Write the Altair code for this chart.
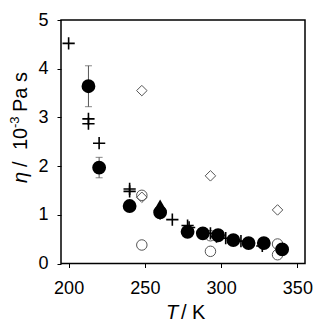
import altair as alt
import pandas as pd

# ---- data ----
cross_T   = [200, 213, 213, 220, 240, 240, 260, 268, 278, 279, 293, 297, 303, 313, 327]
cross_eta = [4.52, 2.97, 2.87, 2.47, 1.53, 1.48, 1.03, 0.90, 0.78, 0.74, 0.62, 0.55, 0.52, 0.46, 0.36]

fc_T   = [213, 220, 240, 260, 278, 288, 298, 308, 318, 328, 340]
fc_eta = [3.64, 1.97, 1.18, 1.05, 0.65, 0.62, 0.58, 0.48, 0.42, 0.42, 0.29]

err_T  = [213, 220]
err_lo = [3.22, 1.76]
err_hi = [4.06, 2.18]

tri_T   = [260]
tri_eta = [1.20]

oc_T   = [248, 248, 293, 293, 337, 337]
oc_eta = [1.40, 0.38, 0.57, 0.25, 0.40, 0.18]

dm_T   = [248, 293, 337, 248]
dm_eta = [3.55, 1.80, 1.10, 1.36]

x_ticks = [200, 250, 300, 350]
y_ticks = [0, 1, 2, 3, 4, 5]

W, H = 244, 243.5
FONT = "Liberation Sans"

xs = alt.Scale(domain=[195, 355], nice=False)
ys = alt.Scale(domain=[0, 5], nice=False)

X = alt.X("T:Q", scale=xs,
          axis=alt.Axis(values=x_ticks, title=None, grid=False, domain=False,
                        tickSize=4, labelPadding=12, format="d"))
Y = alt.Y("eta:Q", scale=ys,
          axis=alt.Axis(values=y_ticks, title=None, grid=False, domain=False,
                        tickSize=4, labelPadding=9, format="d"))

cross_df = pd.DataFrame({"T": cross_T, "eta": cross_eta})
fc_df = pd.DataFrame({"T": fc_T, "eta": fc_eta})
err_df = pd.DataFrame({"T": err_T, "lo": err_lo, "hi": err_hi})
tri_df = pd.DataFrame({"T": tri_T, "eta": tri_eta})
oc_df = pd.DataFrame({"T": oc_T, "eta": oc_eta})
dm_df = pd.DataFrame({"T": dm_T, "eta": dm_eta})

open_circles = alt.Chart(oc_df).mark_point(
    shape="circle", size=110, filled=False, stroke="#555555", strokeWidth=1, opacity=1
).encode(x=X, y=Y)

diamonds = alt.Chart(dm_df).mark_point(
    shape="diamond", size=110, filled=False, stroke="#555555", strokeWidth=1, opacity=1
).encode(x=X, y=Y)

crosses = alt.Chart(cross_df).mark_point(
    shape="M-1,0H1M0,-1V1", size=150, filled=False, stroke="black", strokeWidth=1.6, opacity=1
).encode(x=X, y=Y)

err_rule = alt.Chart(err_df).mark_rule(color="#555555", strokeWidth=1).encode(
    x=alt.X("T:Q", scale=xs), y=alt.Y("lo:Q", scale=ys), y2="hi:Q")
err_cap_lo = alt.Chart(err_df).mark_tick(color="#555555", thickness=1, size=7, orient="horizontal").encode(
    x=alt.X("T:Q", scale=xs), y=alt.Y("lo:Q", scale=ys))
err_cap_hi = alt.Chart(err_df).mark_tick(color="#555555", thickness=1, size=7, orient="horizontal").encode(
    x=alt.X("T:Q", scale=xs), y=alt.Y("hi:Q", scale=ys))

filled = alt.Chart(fc_df).mark_point(
    shape="circle", size=140, filled=True, fill="black", stroke="black", opacity=1
).encode(x=X, y=Y)

triangle = alt.Chart(tri_df).mark_point(
    shape="triangle-up", size=170, filled=True, fill="black", opacity=1
).encode(x=X, y=Y)

def label(text, x, y, size=20, italic=False, angle=0, align="left"):
    return alt.Chart(pd.DataFrame({"t": [text]})).mark_text(
        font=FONT, fontSize=size, fontStyle="italic" if italic else "normal",
        color="black", align=align, baseline="alphabetic", angle=angle
    ).encode(text="t:N", x=alt.value(x), y=alt.value(y))

titles = [
    label("T", 105, 299, italic=True),
    label("/ K", 120, 299),
    label("η", -34, 163, italic=True, angle=270),
    label("/", -34, 147, angle=270),
    label("10", -34, 130, angle=270),
    label("-3", -42, 108, size=13, angle=270),
    label("Pa s", -34, 92, angle=270),
]

chart = alt.layer(
    open_circles, diamonds, crosses, err_rule, err_cap_lo, err_cap_hi, filled, triangle, *titles
).properties(
    width=W, height=H,
    autosize=alt.AutoSizeParams(type="none"),
    padding={"left": 53, "top": 12, "right": 12, "bottom": 61},
).configure_view(
    stroke="black", strokeWidth=1.5
).configure_axis(
    labelFont=FONT, labelFontSize=18, labelColor="black", tickColor="black",
    tickWidth=1
)

chart.save("out.html", embed_options={"renderer": "svg", "actions": False})
